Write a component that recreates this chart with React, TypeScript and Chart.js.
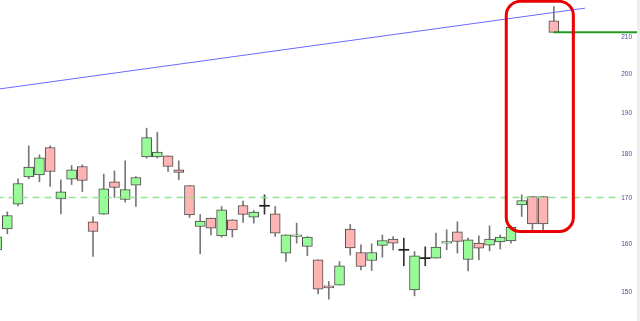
import React, { useEffect, useRef } from 'react';
import { Chart, registerables } from 'chart.js';

Chart.register(...registerables);

// candle index (x position) and OHLC values
const INDEX = [-1, 0, 1, 2, 3, 4, 5, 6, 7, 8, 9, 10, 11, 12, 13, 14, 15, 16, 17, 18, 19, 20, 21, 22, 23, 24, 25, 26, 27, 28, 29, 30, 31, 32, 33, 34, 35, 36, 37, 38, 39, 40, 41, 42, 43, 44, 45, 46, 47, 48, 49, 50, 51];
const OPEN = [158.73, 163.19, 168.59, 174.78, 175.24, 181.66, 169.78, 174.25, 177.17, 164.7, 166.38, 173.63, 169.62, 172.87, 179.45, 179.45, 179.68, 176.4, 172.78, 163.68, 165.51, 161.69, 165.14, 168.28, 165.73, 168.22, 166.45, 158.04, 161.54, 159.42, 156.65, 151.37, 151.51, 163.12, 158.16, 156.5, 159.67, 160.98, 158.73, 150.57, 157.0, 157.0, 160.14, 162.54, 156.71, 160.14, 159.72, 160.41, 160.62, 168.44, 170.29, 170.29, 214.71];
const HIGH = [162.12, 166.89, 174.32, 182.07, 179.92, 182.07, 174.09, 177.4, 177.56, 165.79, 175.4, 176.16, 178.5, 174.85, 186.37, 185.39, 179.68, 178.5, 172.78, 166.3, 165.51, 168.06, 165.14, 169.26, 167.18, 170.67, 168.06, 161.9, 164.42, 161.54, 156.65, 152.23, 156.3, 164.12, 159.78, 159.99, 161.86, 161.54, 161.2, 158.37, 159.36, 162.27, 162.97, 164.7, 161.2, 161.69, 163.83, 161.9, 163.83, 170.67, 170.29, 170.29, 218.8];
const LOW = [158.31, 162.12, 168.22, 174.32, 173.63, 172.55, 166.45, 173.01, 171.42, 157.33, 166.3, 170.07, 169.04, 168.06, 179.14, 179.14, 176.0, 174.09, 165.64, 157.89, 161.9, 161.41, 161.41, 164.55, 164.42, 166.38, 161.54, 156.3, 160.14, 157.48, 149.78, 148.73, 151.51, 157.62, 154.59, 154.45, 157.21, 158.73, 155.41, 149.38, 155.41, 157.0, 158.73, 158.04, 154.39, 156.65, 158.52, 158.88, 160.14, 165.86, 162.61, 162.61, 211.48];
const CLOSE = [161.47, 166.08, 173.24, 177.03, 179.21, 176.0, 171.35, 176.4, 173.92, 162.61, 172.03, 172.33, 171.87, 174.61, 184.08, 180.56, 177.17, 175.77, 166.23, 164.85, 163.34, 167.33, 162.97, 166.3, 166.82, 168.22, 162.27, 161.9, 161.9, 161.41, 150.71, 150.97, 155.41, 159.15, 155.27, 158.16, 160.69, 160.14, 158.73, 157.48, 157.0, 159.3, 160.48, 160.48, 160.84, 159.08, 160.98, 161.41, 163.56, 169.4, 164.27, 164.27, 211.48];

// price axis labels
const Y_TICKS = [150, 160, 170, 180, 190, 200, 210];
const Y_MIN = 144.5;
const Y_MAX = 220.7;
const X_MIN = -0.681;
const X_MAX = 58.76;

// overlays
const DASH_LEVEL = 170.1;
const DASH_X = [-1, 57.3];
const TREND_X = [-1, 53.91];
const TREND_Y = [196.16, 218.34];
const CLOSE_LINE_X = [51, 58.76];
const CLOSE_LINE_LEVEL = 211.48;
const BOX_X = [46.56, 52.82];
const BOX_Y = [162.61, 220.31];

const focusBox = {
  id: 'focusBox',
  afterDatasetsDraw(chart: any) {
    const { ctx, scales } = chart;
    const x = scales.x;
    const y = scales.y;
    const l = x.getPixelForValue(BOX_X[0]);
    const r = x.getPixelForValue(BOX_X[1]);
    const t = y.getPixelForValue(BOX_Y[1]);
    const b = y.getPixelForValue(BOX_Y[0]);
    const rad = 14;
    ctx.save();
    ctx.strokeStyle = '#ea0000';
    ctx.lineWidth = 3;
    ctx.beginPath();
    ctx.moveTo(l + rad, t);
    ctx.lineTo(r - rad, t);
    ctx.arcTo(r, t, r, t + rad, rad);
    ctx.lineTo(r, b - rad);
    ctx.arcTo(r, b, r - rad, b, rad);
    ctx.lineTo(l + rad, b);
    ctx.arcTo(l, b, l, b - rad, rad);
    ctx.lineTo(l, t + rad);
    ctx.arcTo(l, t, l + rad, t, rad);
    ctx.closePath();
    ctx.stroke();
    ctx.restore();
  },
};

export default function App() {
  const ref = useRef<HTMLCanvasElement>(null);

  useEffect(() => {
    if (!ref.current) return;
    const kind = INDEX.map((_, i) => (CLOSE[i] > OPEN[i] ? 'up' : CLOSE[i] < OPEN[i] ? 'down' : 'doji'));
    const bodies = INDEX.map((x, i) => {
      if (kind[i] === 'doji') return { x, y: [OPEN[i] / 1.0007, OPEN[i] * 1.0007] };
      return { x, y: [Math.min(OPEN[i], CLOSE[i]), Math.max(OPEN[i], CLOSE[i])] };
    });
    const wicks = INDEX.map((x, i) => ({ x, y: [LOW[i], HIGH[i]] }));
    const bodyFill = kind.map((k) => (k === 'up' ? '#98fb98' : k === 'down' ? '#ffb4b4' : '#222222'));
    const bodyBorder = kind.map((k) => (k === 'doji' ? '#222222' : '#4a4a4a'));
    const bodyBW = kind.map((k) => (k === 'doji' ? 0 : 1));
    const wickFill = kind.map((k) => (k === 'doji' ? '#333333' : '#777777'));

    const chart = new Chart(ref.current, {
      type: 'bar',
      data: {
        datasets: [
          {
            type: 'line',
            label: 'level',
            data: DASH_X.map((x) => ({ x, y: DASH_LEVEL })),
            borderColor: 'rgba(140,228,140,0.95)',
            borderWidth: 1.5,
            borderDash: [7, 5],
            pointRadius: 0,
            fill: false,
            order: 0,
          },
          {
            type: 'line',
            label: 'trend',
            data: TREND_X.map((x, i) => ({ x, y: TREND_Y[i] })),
            borderColor: '#6a6aff',
            borderWidth: 1,
            pointRadius: 0,
            fill: false,
            order: 0,
          },
          {
            type: 'line',
            label: 'last',
            data: CLOSE_LINE_X.map((x) => ({ x, y: CLOSE_LINE_LEVEL })),
            borderColor: '#1f9a1f',
            borderWidth: 2,
            pointRadius: 0,
            fill: false,
            order: 0,
          },
          {
            type: 'bar',
            label: 'body',
            data: bodies as any,
            backgroundColor: bodyFill,
            borderColor: bodyBorder,
            borderWidth: bodyBW,
            borderSkipped: false,
            grouped: false,
            barPercentage: 1,
            categoryPercentage: 1,
            maxBarThickness: 10,
            order: 1,
          } as any,
          {
            type: 'bar',
            label: 'wick',
            data: wicks as any,
            backgroundColor: wickFill,
            borderWidth: 0,
            grouped: false,
            barPercentage: 1,
            categoryPercentage: 1,
            maxBarThickness: 1,
            order: 2,
          } as any,
        ],
      },
      options: {
        animation: false,
        responsive: false,
        devicePixelRatio: 1,
        layout: { padding: 0 },
        plugins: { legend: { display: false }, tooltip: { enabled: false } },
        scales: {
          x: {
            type: 'linear',
            min: X_MIN,
            max: X_MAX,
            offset: false,
            display: false,
            afterBuildTicks: (s: any) => {
              s.ticks = INDEX.map((v) => ({ value: v }));
            },
          },
          y: {
            type: 'logarithmic',
            position: 'right',
            min: Y_MIN,
            max: Y_MAX,
            bounds: 'data',
            grid: { display: false },
            border: { display: false },
            ticks: {
              mirror: true,
              padding: -5,
              color: '#4b4ba0',
              font: { size: 6.5, family: 'Liberation Sans' },
              callback: (v: any) => String(v),
            },
            afterBuildTicks: (s: any) => {
              s.ticks = Y_TICKS.map((v) => ({ value: v }));
            },
            afterFit: (s: any) => {
              s.width = 0;
              s.paddingTop = 0;
              s.paddingBottom = 0;
            },
          } as any,
        },
      } as any,
      plugins: [focusBox],
    });
    return () => chart.destroy();
  }, []);

  return (
    <div style={{ position: 'fixed', left: 0, top: 0, width: 640, height: 321, background: '#fff', display: 'flex' }}>
      <canvas ref={ref} width={637} height={321} style={{ width: 637, height: 321, display: 'block' }} />
      <div style={{ width: 3, height: 321, background: '#eeeeee' }} />
    </div>
  );
}
